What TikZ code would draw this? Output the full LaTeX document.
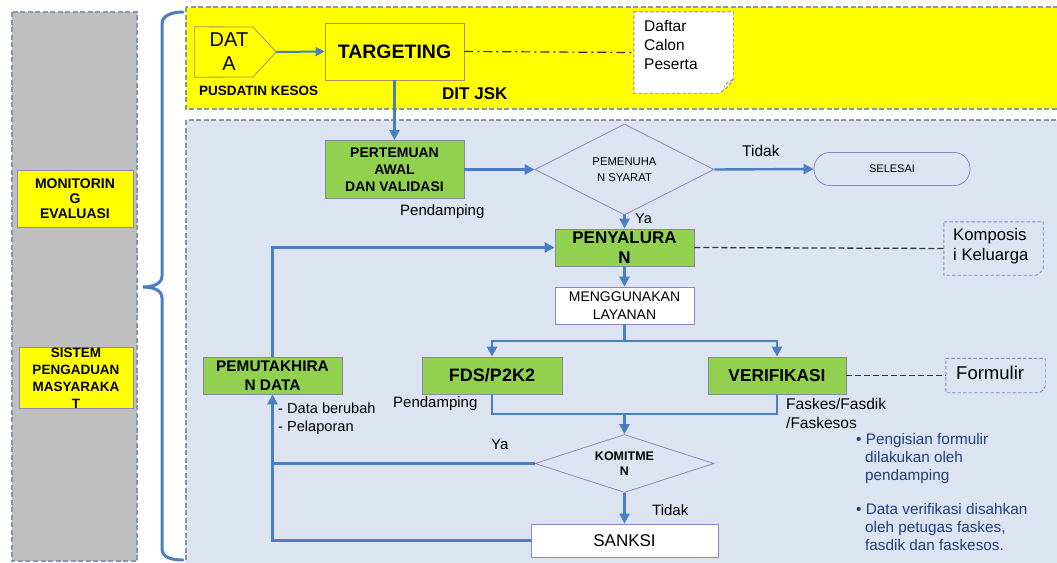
\documentclass[tikz,border=0pt]{standalone}
\usepackage{fontspec}
\setmainfont{Liberation Sans}
\usetikzlibrary{shapes.geometric,arrows.meta,calc}
\definecolor{ylw}{HTML}{FFFF00}
\definecolor{grn}{HTML}{92D050}
\definecolor{gry}{HTML}{BFBFBF}
\definecolor{lblue}{HTML}{DCE4F1}
\definecolor{ablue}{HTML}{4A7EC2}
\definecolor{purp}{HTML}{9382C0}
\definecolor{dborder}{HTML}{8496B0}
\definecolor{tanb}{HTML}{A89060}
\definecolor{txtblue}{HTML}{203F80}
\definecolor{gborder}{HTML}{8A8A9A}
\begin{document}
\begin{tikzpicture}[x=1pt,y=-1pt,
  arr/.style={draw=ablue,line width=2.4pt,-{Triangle[length=10pt,width=10pt]}},
  ln/.style={draw=ablue,line width=2.4pt},
  region/.style={draw=dborder,line width=1.1pt,dash pattern=on 5pt off 2.5pt},
  gbox/.style={draw=gborder,fill=grn,line width=0.8pt,inner sep=0pt,align=center},
  ybox/.style={draw=purp,fill=ylw,line width=0.8pt,inner sep=0pt,align=center},
  wbox/.style={draw=purp,fill=white,line width=0.8pt,inner sep=0pt,align=center},
  dia/.style={diamond,draw=purp,line width=0.8pt,inner sep=0pt,aspect=2.5,align=center},
  notebox/.style={draw=none,inner sep=0pt,align=left},
  noteline/.style={draw=purp,line width=0.9pt,dash pattern=on 3.5pt off 2pt},
  lbl/.style={inner sep=0pt,align=left,anchor=west},
  link/.style={draw=black!80,line width=1.3pt,dash pattern=on 6pt off 3pt}
]
\useasboundingbox (0,0) rectangle (1057,562);
\fill[white] (0,0) rectangle (1057,562);

% left grey panel
\draw[region,fill=gry] (12,12) rectangle (137,561);
\node[ybox,minimum width=116pt,minimum height=57pt,font=\bfseries\fontsize{14}{15}\selectfont] (mon) at (75,198.5) {MONITORIN\\G\\EVALUASI};
\node[ybox,minimum width=114pt,minimum height=58pt,font=\bfseries\fontsize{13.5}{17}\selectfont] (sis) at (76,378) {SISTEM\\PENGADUAN\\MASYARAKA\\T};

% brace
\draw[ablue,line width=3pt,line cap=round] (183,12) to[out=180,in=90] (162,24) -- (162,276)
  to[out=-90,in=0] (143,287) to[out=0,in=90] (162,298) -- (162,549) to[out=-90,in=180] (183,560);

% yellow band and blue region
\draw[region,fill=ylw] (186,7) rectangle (1060,109);
\draw[region,fill=lblue] (186,120) rectangle (1060,566);

% DATA
\node[inner sep=0pt,minimum width=81pt,minimum height=50pt] (data) at (235.5,52) {};
\draw[draw=tanb,fill=ylw,line width=0.8pt] (data.north west) -- (253,27) -- (data.east) -- (253,77) -- (data.south west) -- cycle;
\node[inner sep=0pt,align=center,font=\fontsize{20}{24}\selectfont] (datatxt) at (229,52) {DAT\\A};
\node[ybox,draw=tanb,minimum width=139pt,minimum height=57pt,font=\bfseries\fontsize{19.5}{22}\selectfont] (tgt) at (394.5,51.5) {TARGETING};
\draw[arr,line width=2pt,-{Triangle[length=9pt,width=9pt]}] (data.east) -- (tgt.west);
\node[lbl,font=\bfseries\fontsize{13.5}{16}\selectfont] (pus) at (199,91) {PUSDATIN KESOS};
\node[lbl,font=\bfseries\fontsize{17}{20}\selectfont] (dit) at (442,94) {DIT JSK};

% Daftar note
\node[notebox,minimum width=99pt,minimum height=81pt] (daftar) at (683.5,52.5) {};
\fill[white] (daftar.north west) -- (daftar.north east) -- ($(daftar.south east)+(0,-14)$) -- ($(daftar.south east)+(-14,0)$) -- (daftar.south west) -- cycle;
\draw[noteline] (daftar.north west) -- (daftar.north east) -- ($(daftar.south east)+(0,-14)$)
  to[out=-120,in=30] ($(daftar.south east)+(-14,0)$) -- (daftar.south west) -- cycle;
\draw[noteline] ($(daftar.south east)+(0,-14)$) to[out=-150,in=70] ($(daftar.south east)+(-9,-6)$);
\node[lbl,font=\fontsize{15.5}{19}\selectfont] (daftartxt) at (644,45) {Daftar\\Calon\\Peserta};
\draw[draw=black!80,line width=1.2pt,dash pattern=on 9pt off 4pt on 2pt off 4pt] (tgt.east) -- (daftar.west);

% Pertemuan
\node[gbox,minimum width=139pt,minimum height=58pt,font=\bfseries\fontsize{14}{17}\selectfont] (pert) at (394.5,169.5) {PERTEMUAN\\AWAL\\DAN VALIDASI};
\draw[arr] (tgt.south) -- (pert.north);
\node[lbl,font=\fontsize{15}{17}\selectfont] (pend1) at (400,212) {Pendamping};

\node[dia,minimum width=179pt,minimum height=91pt,font=\fontsize{11.3}{16}\selectfont] (syarat) at (624.5,169.5) {PEMENUHA\\N SYARAT};
\draw[arr] (pert.east) -- (syarat.west);

\node[draw=purp,line width=0.8pt,rounded corners=16pt,minimum width=156pt,minimum height=33pt,inner sep=0pt,font=\fontsize{11}{13}\selectfont] (sel) at (892,169) {SELESAI};
\draw[arr] (syarat.east) -- (sel.west);
\node[lbl,font=\fontsize{15.5}{17}\selectfont] (tidak1) at (742,151) {Tidak};

% Penyaluran
\node[gbox,minimum width=139pt,minimum height=37pt,font=\bfseries\fontsize{17}{20}\selectfont] (peny) at (624.5,247.5) {PENYALURA\\N};
\draw[arr] (syarat.south) -- (peny.north);
\node[lbl,font=\fontsize{14.5}{17}\selectfont] (ya1) at (635,219) {Ya};

\node[notebox,minimum width=99pt,minimum height=53pt] (komp) at (993.5,248.5) {};
\draw[noteline] (komp.north west) -- (komp.north east) -- ($(komp.south east)+(0,-7)$)
  to[out=-120,in=20] ($(komp.south east)+(-7,0)$) -- (komp.south west) -- cycle;
\node[lbl,font=\fontsize{16.7}{20}\selectfont] (komptxt) at (953,246) {Komposis\\i Keluarga};
\draw[link] (peny.east) -- (komp.west);

\node[wbox,minimum width=139pt,minimum height=37pt,font=\fontsize{14}{18}\selectfont] (meng) at (624.5,305.5) {MENGGUNAKAN\\LAYANAN};
\draw[arr] (peny.south) -- (meng.north);

% FDS and Verifikasi
\node[gbox,minimum width=140pt,minimum height=37pt,font=\bfseries\fontsize{18}{20}\selectfont] (fds) at (492,375.5) {FDS/P2K2};
\node[gbox,minimum width=138pt,minimum height=37pt,font=\bfseries\fontsize{17.3}{20}\selectfont] (ver) at (777,375.5) {VERIFIKASI};
\coordinate (split) at (624.5,341);
\draw[ln] (meng.south) -- (split);
\draw[arr] (split) -| (fds.north);
\draw[arr] (split) -| (ver.north);

\node[notebox,minimum width=99pt,minimum height=34pt] (form) at (995.5,375.5) {};
\draw[noteline] (form.north west) -- (form.north east) -- ($(form.south east)+(0,-6)$)
  to[out=-120,in=20] ($(form.south east)+(-6,0)$) -- (form.south west) -- cycle;
\node[lbl,font=\fontsize{18.5}{20}\selectfont] (formtxt) at (956,373) {Formulir};
\draw[link] (ver.east) -- (form.west);

\node[lbl,font=\fontsize{15}{17}\selectfont] (pend2) at (393,404) {Pendamping};
\node[lbl,font=\fontsize{15.5}{19}\selectfont] (fask) at (786,413) {Faskes/Fasdik\\/Faskesos};

% Komitmen
\node[dia,minimum width=179pt,minimum height=58pt,aspect=3,font=\bfseries\fontsize{12.5}{15}\selectfont] (kom) at (624.5,463.5) {KOMITME\\N};
\coordinate (merge) at (624.5,414);
\draw[ln] (fds.south) |- (merge);
\draw[ln] (ver.south) |- (merge);
\draw[arr] (merge) -- (kom.north);

\node[wbox,minimum width=187pt,minimum height=33pt,font=\fontsize{17}{20}\selectfont] (sanksi) at (624.5,540.5) {SANKSI};
\draw[arr] (kom.south) -- (sanksi.north);
\node[lbl,font=\fontsize{15}{17}\selectfont] (tidak2) at (652,510) {Tidak};

% Pemutakhiran
\node[gbox,minimum width=139pt,minimum height=37pt,font=\bfseries\fontsize{15.4}{19}\selectfont] (pem) at (272.5,375.5) {PEMUTAKHIRA\\N DATA};
\draw[arr] (kom.west) -| (pem.south);
\draw[ln] (sanksi.west) -| (pem.south |- kom.west);
\draw[arr] (pem.north) |- (peny.west);
\node[lbl,font=\fontsize{15}{18}\selectfont] (ya2) at (491,444) {Ya};
\node[lbl,font=\fontsize{14.6}{18}\selectfont] (dber) at (278,419) {- Data berubah\\- Pelaporan};

% bullets
\node[lbl,anchor=north west,text=txtblue,font=\fontsize{15.3}{18}\selectfont] (b1) at (856,433) {\textbullet\ Pengisian formulir\\\hspace*{9pt}dilakukan oleh\\\hspace*{9pt}pendamping};
\node[lbl,anchor=north west,text=txtblue,font=\fontsize{15.3}{18}\selectfont] (b2) at (856,503) {\textbullet\ Data verifikasi disahkan\\\hspace*{9pt}oleh petugas faskes,\\\hspace*{9pt}fasdik dan faskesos.};
\end{tikzpicture}
\end{document}
